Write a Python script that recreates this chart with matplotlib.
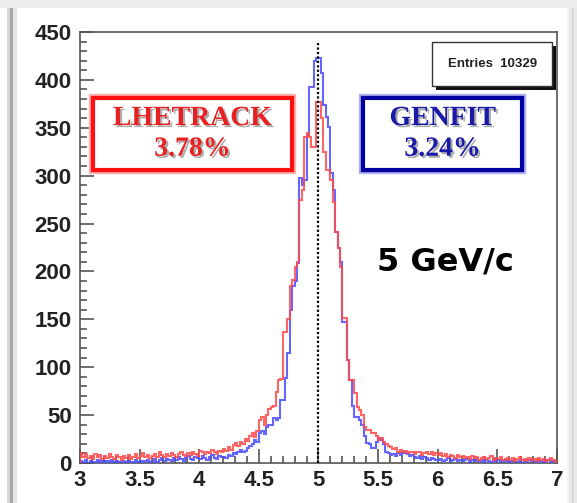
import matplotlib
matplotlib.use("Agg")
import matplotlib.pyplot as plt
import matplotlib.patheffects as pe
from matplotlib.patches import Rectangle
from matplotlib.ticker import MultipleLocator, FuncFormatter
import numpy as np

# histogram binning: 200 bins of 0.02 GeV/c between 3 and 7
x_lo, x_hi, n_bins = 3.0, 7.0, 200

lhetrack_counts = [
    10, 6, 9, 5, 7, 4, 9, 6, 8, 4,
    7, 5, 9, 6, 4, 8, 6, 3, 7, 5,
    8, 4, 6, 9, 5, 7, 10, 6, 8, 5,
    7, 9, 6, 11, 8, 6, 9, 7, 10, 8,
    6, 9, 11, 8, 7, 10, 8, 12, 9, 7,
    13, 11, 9, 12, 10, 14, 11, 9, 13, 12,
    15, 13, 17, 14, 19, 21, 18, 22, 20, 25,
    23, 28, 31, 27, 33, 45, 48, 40, 50, 56,
    58, 60, 74, 87, 88, 137, 137, 150, 185, 191,
    205, 210, 275, 285, 340, 344, 340, 330, 330, 377,
    377, 360, 325, 306, 306, 295, 272, 241, 224, 205,
    151, 151, 108, 87, 87, 73, 58, 55, 50, 38,
    34, 34, 31, 31, 28, 24, 26, 22, 20, 18,
    17, 15, 16, 12, 14, 11, 13, 10, 12, 11,
    9, 12, 11, 8, 10, 12, 9, 11, 8, 10,
    8, 10, 7, 9, 6, 8, 7, 5, 8, 6,
    7, 5, 6, 4, 7, 5, 6, 3, 5, 6,
    4, 5, 7, 3, 5, 4, 6, 3, 4, 5,
    3, 5, 2, 4, 6, 3, 4, 2, 5, 3,
    4, 2, 5, 3, 4, 2, 3, 5, 3, 2,
]

genfit_counts = [
    2, 1, 3, 0, 2, 1, 1, 3, 0, 2,
    1, 2, 0, 3, 1, 2, 1, 0, 2, 1,
    2, 0, 1, 3, 1, 2, 0, 2, 3, 1,
    2, 4, 1, 3, 5, 2, 4, 3, 2, 5,
    3, 6, 4, 2, 5, 7, 4, 3, 6, 5,
    4, 7, 5, 3, 6, 8, 5, 4, 7, 6,
    6, 5, 8, 7, 10, 9, 12, 14, 11, 13,
    16, 18, 20, 24, 22, 31, 33, 30, 38, 40,
    40, 47, 45, 47, 66, 66, 89, 115, 160, 185,
    190, 209, 298, 290, 295, 342, 393, 393, 420, 423,
    423, 407, 374, 361, 351, 303, 285, 241, 224, 210,
    147, 147, 108, 87, 60, 48, 48, 45, 40, 28,
    21, 20, 16, 16, 22, 26, 24, 20, 12, 10,
    8, 9, 7, 10, 8, 11, 10, 9, 7, 8,
    6, 5, 7, 4, 6, 5, 3, 5, 4, 3,
    3, 4, 2, 3, 5, 2, 3, 4, 2, 3,
    2, 3, 4, 1, 3, 2, 4, 2, 3, 1,
    3, 2, 1, 4, 2, 3, 1, 2, 3, 2,
    1, 2, 3, 1, 2, 0, 2, 1, 3, 2,
    2, 1, 3, 2, 1, 2, 3, 1, 2, 2,
]

labels = ["LHETRACK\n3.78%", "GENFIT\n3.24%"]
entries = 10329
momentum_text = "5 GeV/c"
p_true = 5.0
marker_top = 438

edges = np.linspace(x_lo, x_hi, n_bins + 1)

fig = plt.figure(figsize=(5.77, 5.03), dpi=100)
fig.patch.set_facecolor("white")

# canvas frame decorations (grey strip on top, bars at left, shadow at right)
fig.add_artist(Rectangle((0, 0.985), 1, 0.015, transform=fig.transFigure,
                         facecolor="#eeeeee", edgecolor="none"))
for x0, w, c in [(0.012, 0.006, "#d6d6d6"), (0.018, 0.004, "#a8a8a8"),
                 (0.022, 0.008, "#e4e4e4")]:
    fig.add_artist(Rectangle((x0, 0), w, 0.985, transform=fig.transFigure,
                             facecolor=c, edgecolor="none"))
for i, c in enumerate(["#f4f4f4", "#e6e6e6", "#dadada", "#e8e8e8"]):
    fig.add_artist(Rectangle((0.982 + i * 0.0045, 0), 0.0045, 0.985,
                             transform=fig.transFigure, facecolor=c, edgecolor="none"))

ax = fig.add_axes([0.1386, 0.0795, 0.8267, 0.857])
ax.set_xlim(x_lo, x_hi)
ax.set_ylim(0, 450)

ax.stairs(genfit_counts, edges, color="#4a4aff", lw=1.5, alpha=0.85, zorder=3)
ax.stairs(lhetrack_counts, edges, color="#ff4a4a", lw=1.5, alpha=0.85, zorder=4)
ax.vlines(p_true, 0, marker_top, colors="black", linestyles=(0, (1, 1)), lw=1.6, zorder=5)

# ROOT-like axes
for s in ax.spines.values():
    s.set_color("#555555")
    s.set_linewidth(1.2)
ax.xaxis.set_major_locator(MultipleLocator(0.5))
ax.xaxis.set_minor_locator(MultipleLocator(0.1))
ax.yaxis.set_major_locator(MultipleLocator(50))
ax.yaxis.set_minor_locator(MultipleLocator(10))
ax.xaxis.set_major_formatter(FuncFormatter(lambda v, p: f"{v:g}"))
ax.tick_params(which="both", direction="in", color="#555555", width=1.2,
               top=False, right=False)
ax.tick_params(which="major", length=10)
ax.tick_params(which="minor", length=5)
ax.tick_params(axis="y", which="major", pad=6)
ax.tick_params(axis="x", which="major", pad=5)
for lab in ax.get_xticklabels() + ax.get_yticklabels():
    lab.set_fontfamily("Liberation Sans")
    lab.set_fontweight("bold")
    lab.set_fontsize(16)
    lab.set_color("#222222")

shadow = [pe.SimplePatchShadow(offset=(1.5, -1.5), shadow_rgbFace="#777777", alpha=0.6),
          pe.Normal()]

# method result boxes
boxes = [((0.027, 0.680), 0.417, 0.167, "#ff1010", "#ffb0b0", "#e82020"),
         ((0.593, 0.680), 0.334, 0.167, "#0000a0", "#b0b0f0", "#1a1aa8")]
for (xy, w, h, ec, glow, tc), txt in zip(boxes, labels):
    box = Rectangle(xy, w, h, transform=ax.transAxes, facecolor="white",
                    edgecolor=ec, lw=3, zorder=6)
    box.set_path_effects([pe.withStroke(linewidth=6, foreground=glow), pe.Normal()])
    ax.add_patch(box)
    ax.text(xy[0] + w / 2, xy[1] + h / 2, txt, transform=ax.transAxes,
            ha="center", va="center", color=tc, fontsize=20, fontweight="bold",
            family="Liberation Serif", linespacing=1.3, zorder=7, path_effects=shadow)

# stats box
sx, sy, sw, sh = 0.738, 0.874, 0.252, 0.102
ax.add_patch(Rectangle((sx + 0.008, sy - 0.009), sw, sh, transform=ax.transAxes,
                       facecolor="#111111", edgecolor="none", zorder=6))
ax.add_patch(Rectangle((sx, sy), sw, sh, transform=ax.transAxes,
                       facecolor="white", edgecolor="#333333", lw=1.0, zorder=7))
ax.text(sx + sw / 2, sy + sh / 2, f"Entries  {entries}", transform=ax.transAxes,
        ha="center", va="center", fontsize=9.5, fontweight="bold",
        family="Liberation Sans", color="#222222", zorder=8)

ax.text(0.623, 0.466, momentum_text, transform=ax.transAxes, ha="left", va="center",
        fontsize=23, fontweight="bold", family="DejaVu Sans", color="black", zorder=7)

fig.savefig("out.png", dpi=100, facecolor=fig.get_facecolor())
